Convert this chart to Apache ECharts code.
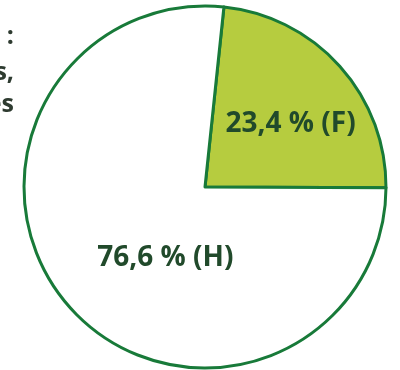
<!DOCTYPE html>
<html>
<head>
<meta charset="utf-8">
<script src="https://cdn.jsdelivr.net/npm/echarts@6/dist/echarts.min.js"></script>
<style>
  html, body { margin: 0; padding: 0; background: #ffffff; }
  #chart { width: 400px; height: 370px; }
</style>
</head>
<body>
<div id="chart"></div>
<script>
// Share by sex (percent)
const categories = ['F', 'H'];
const values = [23.4, 76.6];
const sliceColors = ['#b6cc3f', '#ffffff'];
// Title lines (right part only lies inside the canvas)
const titleLines = ['Répartition par sexe :', 'des salariés permanents,', 'hommes et femmes'];

const chart = echarts.init(document.getElementById('chart'), null, { renderer: 'canvas' });

const labelShift = [[16, -1], [30, 9]];

chart.setOption({
  animation: false,
  graphic: titleLines.map((t, i) => ({
    type: 'text',
    right: 386,
    top: [24, 60, 92][i],
    style: {
      text: t,
      fill: '#2e3b30',
      font: 'bold 25px "Open Sans"',
      textAlign: 'right'
    }
  })),
  series: [{
    type: 'pie',
    center: [205, 187],
    radius: [0, 181],
    startAngle: 84,
    clockwise: true,
    silent: true,
    itemStyle: { borderColor: '#187a39', borderWidth: 3 },
    label: {
      position: 'inner',
      formatter: p => String(p.value).replace('.', ',') + ' % (' + p.name + ')',
      color: '#214a2b',
      fontFamily: 'Open Sans',
      fontWeight: 'bold',
      fontSize: 28
    },
    labelLine: { show: false },
    labelLayout: p => ({ dx: labelShift[p.dataIndex][0], dy: labelShift[p.dataIndex][1] }),
    data: categories.map((c, i) => ({
      name: c,
      value: values[i],
      itemStyle: { color: sliceColors[i] }
    }))
  }]
});
</script>
</body>
</html>
